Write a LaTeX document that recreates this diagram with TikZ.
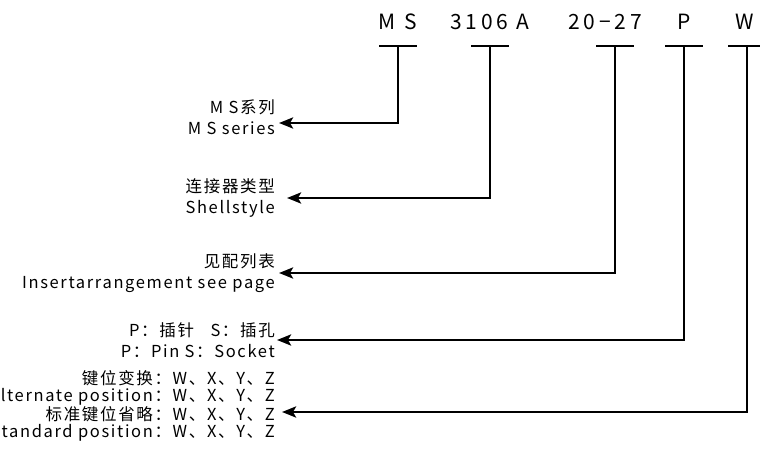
\documentclass[tikz,border=0pt]{standalone}
\usepackage{fontspec}
\setmainfont{Noto Sans CJK SC}
\newfontfamily\spaced[LetterSpace=10]{Noto Sans CJK SC}
\newfontfamily\wide[LetterSpace=18]{Noto Sans CJK SC}
\usetikzlibrary{arrows.meta}
\tikzset{
  code/.style={font=\wide\fontsize{21}{22}\selectfont,inner sep=0pt},
  legend/.style={anchor=east,align=right,inner sep=0pt,font=\spaced\fontsize{16.5}{21}\selectfont},
  tbar/.style={line width=2.8pt},
  pointer/.style={line width=2.8pt,-{Stealth[length=14pt,width=11pt,inset=3pt]}}
}
\begin{document}
\begin{tikzpicture}[x=1pt,y=-1pt]
\useasboundingbox (0,0) rectangle (760,454);
% model code
\foreach \n/\x/\t in {ms/398/M S,sh/490/3106 A,ar/605/20−27,pn/684/P,ky/745/W}
  \node[code] (c\n) at (\x,22) {\t};
\foreach \n/\x in {ms/398,sh/490,ar/615,pn/684,ky/747} {
  \coordinate (b\n) at (\x,46);
  \draw[tbar] ([xshift=-19pt]b\n) -- ([xshift=19pt]b\n);
}
% meanings
\node[legend] (lms) at (275,117) {M S系列\\M S series};
\node[legend] (lsh) at (275,198) {连接器类型\\Shellstyle};
\node[legend] (lar) at (275,273) {见配列表\\Insertarrangement see page};
\node[legend] (lpn) at (275,340) {P：插针\quad S：插孔\\P：Pin S：Socket};
\node[legend,font=\spaced\fontsize{16.5}{17.5}\selectfont] (lky) at (275,406)
  {键位变换：W、X、Y、Z\\Alternate position：W、X、Y、Z\\标准键位省略：W、X、Y、Z\\Standard position：W、X、Y、Z};
\draw[pointer] (bms) |- ([xshift=4pt,yshift=-6pt]lms.east);
\draw[pointer] (bsh) |- ([xshift=12pt]lsh.east);
\draw[pointer] (bar) |- ([xshift=4pt]lar.east);
\draw[pointer] (bpn) |- ([xshift=2pt]lpn.east);
\draw[pointer] (bky) |- ([xshift=7pt,yshift=-6pt]lky.east);
\end{tikzpicture}
\end{document}
